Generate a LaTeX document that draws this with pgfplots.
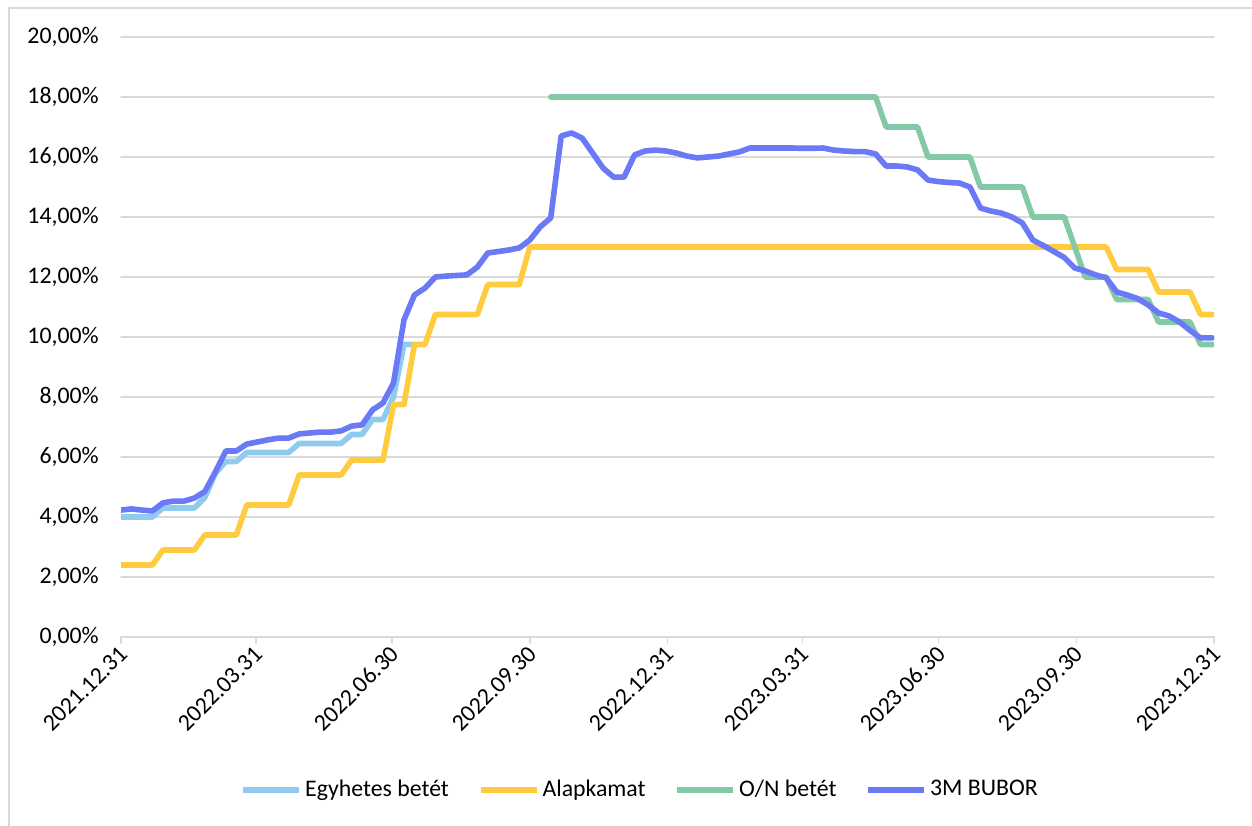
\documentclass[border=0pt]{standalone}
\usepackage{fontspec}
\setmainfont{Carlito}
\usepackage{pgfplots}
\pgfplotsset{compat=1.18}
\definecolor{cLB}{RGB}{142,203,238}
\definecolor{cY}{RGB}{255,204,64}
\definecolor{cG}{RGB}{132,201,165}
\definecolor{cB}{RGB}{106,121,246}
\definecolor{gridc}{RGB}{217,217,217}
\newcommand{\cf}{\fontsize{11.9bp}{14bp}\selectfont}
\begin{document}
\cf
\begin{tikzpicture}
\begin{axis}[
  scale only axis, width=546.5bp, height=300bp,
  xmin=0, xmax=730, ymin=0, ymax=20,
  axis x line*=bottom, axis y line*=left,
  x axis line style={gridc, line width=0.75bp},
  y axis line style={draw=none},
  xtick={0,90,181,273,365,455,546,638,730},
  xticklabels={2021.12.31,2022.03.31,2022.06.30,2022.09.30,2022.12.31,2023.03.31,2023.06.30,2023.09.30,2023.12.31},
  ytick={0,2,4,6,8,10,12,14,16,18,20},
  yticklabels={{0,00\%},{2,00\%},{4,00\%},{6,00\%},{8,00\%},{10,00\%},{12,00\%},{14,00\%},{16,00\%},{18,00\%},{20,00\%}},
  ymajorgrids, grid style={gridc, line width=0.75bp},
  tick align=outside, major tick length=3bp,
  x tick style={gridc, line width=0.75bp},
  y tick style={draw=none},
  tick label style={font=\cf, text=black},
  xticklabel style={rotate=45, anchor=east, xshift=2.5bp, yshift=-3.5bp},
  yticklabel style={anchor=east, xshift=-4bp},
  line cap=round, line join=round,
  every axis plot/.append style={line width=2.8bp},
  legend columns=4,
  legend style={at={(0.4755,-0.255)}, anchor=center, draw=none, fill=none, font=\cf,
    /tikz/every even column/.append style={column sep=13bp},
    nodes={inner sep=1.5bp}},
  legend image code/.code={\draw[#1] (0bp,0bp) -- (28bp,0bp);},
]
\addplot[cLB] coordinates {
(0,4.0)(21,4.0)(28,4.3)(49,4.3)(56,4.65)(63,5.45)(70,5.85)(77,5.85)(84,6.15)(112,6.15)
(119,6.45)(147,6.45)(154,6.75)(161,6.75)(168,7.25)(175,7.25)(182,8.0)(189,9.75)(196,9.75)};
\addlegendentry{Egyhetes betét}
\addplot[cY] coordinates {
(0,2.4)(21,2.4)(28,2.9)(49,2.9)(56,3.4)(77,3.4)(84,4.4)(112,4.4)(119,5.4)(147,5.4)
(154,5.9)(175,5.9)(182,7.75)(189,7.75)(196,9.75)(203,9.75)(210,10.75)(238,10.75)
(245,11.75)(266,11.75)(273,13)(658,13)(665,12.25)(686,12.25)(693,11.5)(714,11.5)
(721,10.75)(729,10.75)};
\addlegendentry{Alapkamat}
\addplot[cG] coordinates {
(287,18)(504,18)(511,17)(532,17)(539,16)(567,16)(574,15)(602,15)(609,14)(630,14)
(637,13)(644,12)(658,12)(665,11.25)(686,11.25)(693,10.5)(714,10.5)(721,9.75)(729,9.75)};
\addlegendentry{O/N betét}
\addplot[cB] coordinates {
(0,4.23)(7,4.27)(14,4.23)(21,4.2)(28,4.47)(35,4.53)(42,4.53)(49,4.63)(56,4.85)(63,5.5)
(70,6.2)(77,6.2)(84,6.43)(91,6.5)(98,6.57)(105,6.63)(112,6.63)(119,6.77)(126,6.8)(133,6.83)
(140,6.83)(147,6.87)(154,7.03)(161,7.07)(168,7.57)(175,7.8)(182,8.47)(189,10.57)(196,11.4)
(203,11.63)(210,12.0)(217,12.03)(224,12.05)(231,12.07)(238,12.33)(245,12.8)(252,12.85)
(259,12.9)(266,12.97)(273,13.23)(280,13.67)(287,13.97)(294,16.7)(301,16.8)(308,16.63)
(315,16.13)(322,15.63)(329,15.33)(336,15.33)(343,16.07)(350,16.2)(357,16.23)(364,16.2)
(371,16.13)(378,16.03)(385,15.97)(392,16.0)(399,16.03)(406,16.1)(413,16.17)(420,16.3)
(427,16.3)(434,16.3)(441,16.3)(448,16.3)(455,16.29)(462,16.29)(469,16.3)(476,16.23)
(483,16.2)(490,16.18)(497,16.18)(504,16.1)(511,15.7)(518,15.7)(525,15.67)(532,15.57)
(539,15.23)(546,15.18)(553,15.15)(560,15.13)(567,15.0)(574,14.3)(581,14.2)(588,14.13)
(595,14.0)(602,13.8)(609,13.23)(616,13.05)(623,12.85)(630,12.65)(637,12.3)(644,12.2)
(651,12.07)(658,11.97)(665,11.5)(672,11.4)(679,11.28)(686,11.07)(693,10.8)(700,10.7)
(707,10.5)(714,10.22)(721,9.97)(729,9.97)};
\addlegendentry{3M BUBOR}
\end{axis}
\draw[gridc, line width=0.75bp] ([xshift=-56bp,yshift=-100bp]current axis.south west)
  -- ([xshift=-56bp,yshift=314.5bp]current axis.south west)
  -- ([xshift=580bp,yshift=314.5bp]current axis.south west);
\pgfresetboundingbox
\path[use as bounding box] ([xshift=-60.5bp,yshift=-94.5bp]current axis.south west)
  rectangle ([xshift=565.5bp,yshift=318.5bp]current axis.south west);
\end{tikzpicture}
\end{document}
